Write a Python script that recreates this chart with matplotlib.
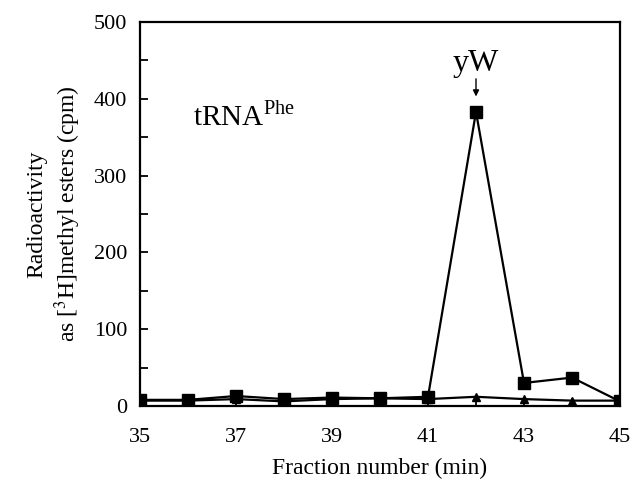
import matplotlib

matplotlib.use("Agg")
import matplotlib.pyplot as plt
from matplotlib.ticker import MultipleLocator

fractions = [35, 36, 37, 38, 39, 40, 41, 42, 43, 44, 45]
squares = [8, 8, 13, 9, 11, 10, 12, 383, 30, 37, 6]
triangles = [7, 7, 9, 6, 9, 10, 9, 12, 9, 7, 7]
x_tick_labels = [35, 37, 39, 41, 43, 45]

plt.rcParams["font.family"] = ["Liberation Serif", "DejaVu Serif"]
plt.rcParams["mathtext.fontset"] = "stix"

fig = plt.figure(figsize=(6.36, 4.79), dpi=100)
axis = fig.add_axes([140 / 636, 1 - 406 / 479, 480 / 636, 384 / 479])

axis.plot(fractions, triangles, color="black", marker="^", markersize=6, linewidth=1.6)
axis.plot(fractions, squares, color="black", marker="s", markersize=8.5, linewidth=1.6)

axis.set_xlim(35, 45)
axis.set_ylim(0, 500)
axis.set_xticks(x_tick_labels)
axis.xaxis.set_minor_locator(MultipleLocator(1))
axis.yaxis.set_major_locator(MultipleLocator(100))
axis.yaxis.set_minor_locator(MultipleLocator(50))
axis.tick_params(which="both", direction="in", labelsize=16, width=1.3, length=6)
axis.tick_params(axis="x", pad=16)
axis.tick_params(axis="y", pad=9)
for spine in axis.spines.values():
    spine.set_linewidth(1.6)

axis.set_xlabel("Fraction number (min)", fontsize=17, labelpad=8)
axis.set_ylabel("Radioactivity\nas [$^3$H]methyl esters (cpm)", fontsize=17, labelpad=8)

axis.text(36.1, 375, "tRNA$^{\\mathregular{Phe}}$", fontsize=21, va="center", ha="left")
axis.text(42, 446, "yW", fontsize=23, ha="center", va="center")
axis.annotate(
    "",
    xy=(42, 403),
    xytext=(42, 426),
    arrowprops=dict(arrowstyle="-|>", color="black", lw=1, mutation_scale=9, shrinkA=0, shrinkB=0),
)

fig.savefig("out.png", dpi=100)
